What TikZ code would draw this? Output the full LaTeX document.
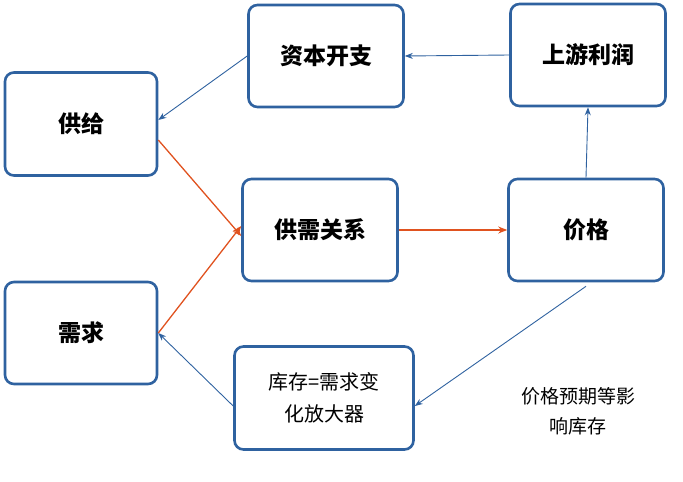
\documentclass[tikz,border=0pt]{standalone}
\usepackage{fontspec}
\setmainfont{Noto Sans CJK SC}
\usetikzlibrary{arrows.meta}
\definecolor{bline}{HTML}{2F62A0}
\definecolor{oline}{HTML}{E0521F}
\begin{document}
\begin{tikzpicture}[x=1pt,y=-1pt,
  box/.style={draw=bline,line width=2.6pt,rounded corners=9pt,fill=white,align=center,font=\fontsize{23}{27}\selectfont\bfseries},
  bar/.style={draw=bline,line width=0.9pt,-{Stealth[length=8pt,width=6pt]}},
  oar/.style={draw=oline,line width=1.3pt,-{Stealth[length=9pt,width=7pt]}}]
\useasboundingbox (0,0) rectangle (683,482);
\node[box,minimum width=155pt,minimum height=102pt] (cap) at (326,56) {资本开支};
\node[box,minimum width=155pt,minimum height=102pt] (prof) at (588,55) {上游利润};
\node[box,minimum width=152pt,minimum height=103pt] (sup) at (81,124) {供给};
\node[box,minimum width=155pt,minimum height=102pt] (sd) at (320,230) {供需关系};
\node[box,minimum width=155pt,minimum height=102pt] (pr) at (586,230) {价格};
\node[box,minimum width=152pt,minimum height=102pt] (dem) at (81,333) {需求};
\node[box,minimum width=179pt,minimum height=103pt,font=\fontsize{20}{32}\selectfont] (inv) at (324,398) {库存=需求变\\化放大器};
\node[align=center,font=\fontsize{19}{30}\selectfont] (note) at (578,411) {价格预期等影\\响库存};
\draw[bar] (prof.west) -- (cap.east);
\draw[bar] (cap.west) -- (sup.east |- 0,120);
\draw[bar] (pr.north) -- (prof.south);
\draw[oar] (sup.east |- 0,140) -- (sd.west |- 0,236);
\draw[oar] (dem.east) -- (sd.west |- 0,226);
\draw[oar] (sd.east) -- (pr.west);
\draw[bar] (pr.south) ++(0,4) -- (inv.east |- 0,406);
\draw[bar] (inv.west |- 0,406) -- (dem.east |- 0,333);
\end{tikzpicture}
\end{document}
